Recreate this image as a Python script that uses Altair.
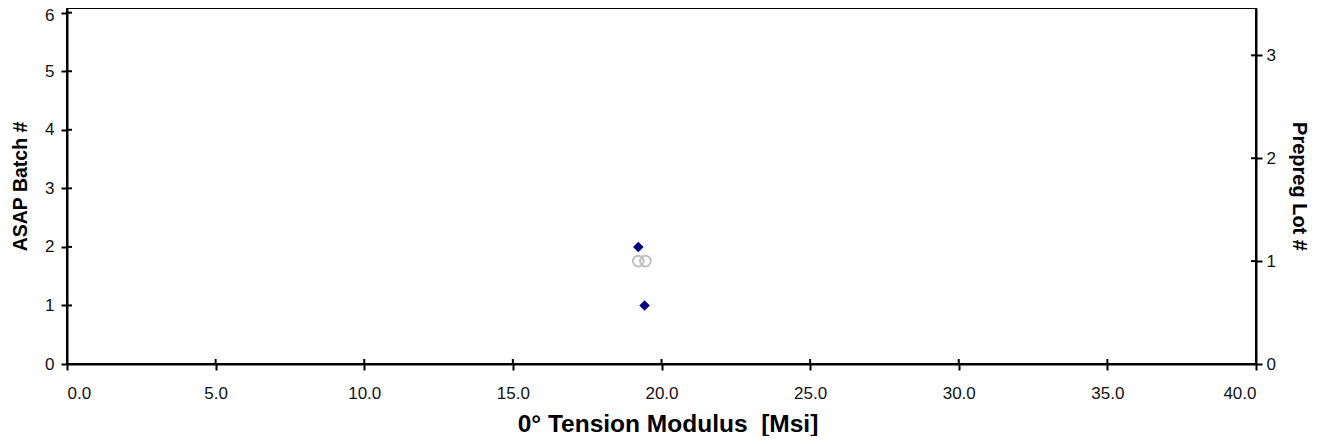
import altair as alt
import pandas as pd

# ASAP batch series (left axis)
batch_x = [19.22, 19.43]
batch_y = [2, 1]

# Prepreg lot series (right axis)
lot_x = [19.22, 19.46]
lot_y = [1, 1]

x_ticks = [0, 5, 10, 15, 20, 25, 30, 35, 40]
left_ticks = [0, 1, 2, 3, 4, 5, 6]
right_ticks = [0, 1, 2, 3]

W, H = 1189, 356

df_b = pd.DataFrame({"x": batch_x, "y": batch_y})
df_l = pd.DataFrame({"x": lot_x, "y": lot_y})
df_xt = pd.DataFrame({"x": x_ticks})
df_lt = pd.DataFrame({"y": left_ticks})
df_rt = pd.DataFrame({"y": right_ticks})

FONT = "Liberation Sans"

xscale = alt.Scale(domain=[0, 40], nice=False, zero=False)
lscale = alt.Scale(domain=[0, 6.08], nice=False)
rscale = alt.Scale(domain=[0, 3.46], nice=False)

xaxis = alt.Axis(title="0° Tension Modulus\u00a0\u00a0[Msi]", values=x_ticks, format=".1f",
                 grid=False, domainColor="black", domainWidth=2, tickColor="black", tickWidth=2,
                 tickSize=6, labelFontSize=17, labelColor="#111", labelPadding=15,
                 titleFontSize=24.5, titleFontWeight="bold", titleColor="black",
                 titlePadding=11, titleX=W / 2 + 6, labelFont=FONT, titleFont=FONT)
xenc = alt.X("x:Q", scale=xscale, axis=xaxis)

lot = alt.Chart(df_l).mark_point(shape="circle", filled=False, color="#c0c0c0", size=115,
                                 strokeWidth=2, opacity=1).encode(
    x=xenc,
    y=alt.Y("y:Q", scale=rscale,
            axis=alt.Axis(title="Prepreg Lot #", values=right_ticks, orient="right", grid=False,
                          domainColor="black", domainWidth=2, tickColor="black", tickWidth=2,
                          tickSize=6, labelFontSize=17, labelColor="#111", labelPadding=4,
                          titleFontSize=20, titleFontWeight="bold", titleColor="black",
                          titlePadding=13, labelFont=FONT, titleFont=FONT))
)

batch = alt.Chart(df_b).mark_point(shape="diamond", filled=True, color="#000080", size=110,
                                   opacity=1).encode(
    x=xenc,
    y=alt.Y("y:Q", scale=lscale,
            axis=alt.Axis(title="ASAP Batch #", values=left_ticks, orient="left", grid=False,
                          domainColor="black", domainWidth=2, tickColor="black", tickWidth=2,
                          tickSize=6, labelFontSize=17, labelColor="#111", labelPadding=7,
                          labelOffset={"condition": {"test": "datum.value == 6", "value": 3},
                                       "value": 0},
                          titleFontSize=19.5, titleFontWeight="bold", titleColor="black",
                          titlePadding=14, labelFont=FONT, titleFont=FONT))
)

# inner halves of the crossing tick marks
xt_in = alt.Chart(df_xt).mark_rule(color="black", strokeWidth=2).encode(
    x=xenc, y=alt.value(H - 5), y2=alt.value(H))
lt_in = alt.Chart(df_lt).mark_rule(color="black", strokeWidth=2).encode(
    y=alt.Y("y:Q", scale=lscale, axis=None), x=alt.value(0), x2=alt.value(5))
rt_in = alt.Chart(df_rt).mark_rule(color="black", strokeWidth=2).encode(
    y=alt.Y("y:Q", scale=rscale, axis=None), x=alt.value(W - 5), x2=alt.value(W))

chart = alt.layer(batch, lot, lt_in, rt_in, xt_in).resolve_scale(y="independent").properties(
    width=W, height=H,
    autosize=alt.AutoSizeParams(type="none"),
    padding={"left": 59, "right": 55, "top": 0, "bottom": 72},
).configure_view(stroke="black", strokeWidth=2)

chart.save("out.html", embed_options={"renderer": "svg", "actions": False})
